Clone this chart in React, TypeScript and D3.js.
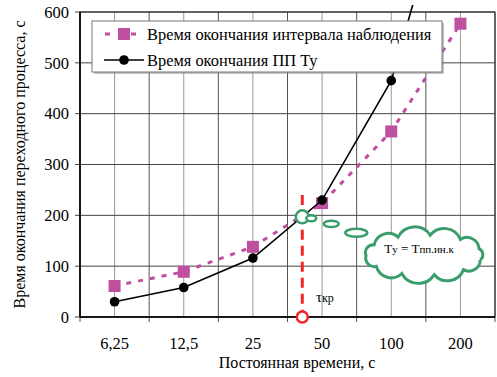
import React from "react";
import * as d3 from "d3";

const width = 497;
const height = 377;
const margin = { top: 12, right: 2, bottom: 60, left: 80 };

// постоянная времени, с
const categories = [6.25, 12.5, 25, 50, 100, 200];
const categoryLabels = ["6,25", "12,5", "25", "50", "100", "200"];
// время окончания интервала наблюдения
const intervalEnd = [61, 89, 138, 224, 365, 577];
// время окончания ПП Ту
const transientEnd = [30, 58, 116, 230, 465, 945];
const yTicks = [0, 100, 200, 300, 400, 500, 600];
const tauKr = 41;
const tauKrY = 197;

const pink = "#BF4F9F";
const green = "#3A9E6C";
const red = "#F0262A";
const font = "'Liberation Serif', 'Times New Roman', Times, 'DejaVu Serif', serif";

function cloudPath(cx: number, cy: number, rx: number, ry: number, n: number) {
  const pts = d3.range(n).map((i) => {
    const a = (i / n) * Math.PI * 2 + 0.25;
    return [cx + rx * Math.cos(a), cy + ry * Math.sin(a)];
  });
  let d = `M${pts[0][0]},${pts[0][1]}`;
  for (let i = 1; i <= n; i++) {
    const p0 = pts[i - 1];
    const p = pts[i % n];
    const r = Math.hypot(p[0] - p0[0], p[1] - p0[1]) * 0.58;
    d += ` A${r},${r} 0 0 1 ${p[0]},${p[1]}`;
  }
  return d;
}

export default function App() {
  const plotLeft = margin.left;
  const plotRight = width - margin.right;
  const plotBottom = height - margin.bottom;
  const step = (plotRight - plotLeft) / categories.length;

  const x = d3
    .scaleLog()
    .base(2)
    .domain([categories[0], categories[categories.length - 1]])
    .range([plotLeft + step / 2, plotRight - step / 2]);
  const y = d3.scaleLinear().domain([0, 600]).range([plotBottom, margin.top]);

  const boundaries = d3.range(categories.length + 1).map((i) => plotLeft + i * step);

  const line = d3
    .line<number>()
    .x((_, i) => x(categories[i]))
    .y((d) => y(d));

  const xr = x(tauKr);
  const gy = y(tauKrY);

  return (
    <svg width={width} height={height} style={{ position: "absolute", left: 0, top: 0, fontFamily: font }}>
      <defs>
        <clipPath id="plotClip">
          <rect x={plotLeft} y={5} width={plotRight - plotLeft} height={plotBottom - 5} />
        </clipPath>
      </defs>
      <rect width={width} height={height} fill="#fff" />

      {/* grid */}
      {categories.map((c) => (
        <line key={"m" + c} x1={x(c)} x2={x(c)} y1={margin.top} y2={plotBottom} stroke="#9a9a9a" strokeWidth={1} />
      ))}
      {boundaries.map((b, i) => (
        <line key={"b" + i} x1={b} x2={b} y1={margin.top} y2={plotBottom + 5} stroke="#555" strokeWidth={1} />
      ))}
      {yTicks.map((t) => (
        <line key={"h" + t} x1={plotLeft - 5} x2={plotRight} y1={y(t)} y2={y(t)} stroke="#444" strokeWidth={1} />
      ))}
      <rect x={plotLeft} y={margin.top} width={plotRight - plotLeft} height={plotBottom - margin.top} fill="none" stroke="#222" strokeWidth={1} />
      <line x1={plotLeft} x2={plotLeft} y1={margin.top} y2={plotBottom} stroke="#000" strokeWidth={1.5} />
      <line x1={plotLeft} x2={plotRight} y1={plotBottom} y2={plotBottom} stroke="#000" strokeWidth={1.5} />

      {/* tick labels */}
      {yTicks.map((t) => (
        <text key={"yl" + t} x={plotLeft - 11} y={y(t)} dy="0.35em" textAnchor="end" fontSize={16.5}>
          {t}
        </text>
      ))}
      {categories.map((c, i) => (
        <text key={"xl" + c} x={x(c)} y={plotBottom + 32} textAnchor="middle" fontSize={16.5}>
          {categoryLabels[i]}
        </text>
      ))}
      <text x={297} y={368} textAnchor="middle" fontSize={16}>
        Постоянная времени, с
      </text>
      <text transform={`translate(25,${(margin.top + plotBottom) / 2}) rotate(-90)`} textAnchor="middle" fontSize={16}>
        Время окончания переходного процесса, с
      </text>

      {/* series */}
      <g clipPath="url(#plotClip)">
        <path d={line(intervalEnd) ?? ""} fill="none" stroke={pink} strokeWidth={3} strokeDasharray="5,7" />
        {intervalEnd.map((v, i) => (
          <rect key={"s" + i} x={x(categories[i]) - 6} y={y(v) - 6} width={12} height={12} fill={pink} />
        ))}
        <path d={line(transientEnd) ?? ""} fill="none" stroke="#000" strokeWidth={1.6} />
        {transientEnd.map((v, i) => (
          <circle key={"c" + i} cx={x(categories[i])} cy={y(v)} r={4.8} fill="#000" />
        ))}
      </g>

      {/* critical tau */}
      <line x1={xr} x2={xr} y1={195} y2={gy - 8} stroke={red} strokeWidth={3} strokeDasharray="10,6" />
      <line x1={xr} x2={xr} y1={gy + 13} y2={plotBottom - 6} stroke={red} strokeWidth={3} strokeDasharray="10,6" />
      <circle cx={xr} cy={plotBottom} r={5.5} fill="#fff" stroke={red} strokeWidth={2.5} />
      <circle cx={xr} cy={gy} r={6.5} fill="#fff" stroke={green} strokeWidth={2.5} />
      <ellipse cx={xr + 9} cy={gy + 1.5} rx={5} ry={3} fill="#fff" stroke={green} strokeWidth={2.5} />
      <ellipse cx={xr + 29} cy={gy + 7} rx={7.5} ry={3.2} fill="#fff" stroke={green} strokeWidth={2.5} />
      <ellipse cx={xr + 54} cy={gy + 16} rx={11} ry={4} fill="#fff" stroke={green} strokeWidth={2.5} />
      <path d={cloudPath(424, 255, 58, 20, 11)} fill="#fff" stroke={green} strokeWidth={3} />
      <text x={419} y={253} textAnchor="middle" fontSize={13}>
        T<tspan fontSize={11}>у</tspan> = T<tspan fontSize={11}>пп.ин.к</tspan>
      </text>
      <text x={316} y={302} fontSize={15}>
        τ<tspan fontSize={12}>кр</tspan>
      </text>

      {/* legend */}
      <rect x={94} y={23} width={350} height={51} fill="#888" opacity={0.5} />
      <rect x={92} y={21} width={350} height={51} fill="#fff" stroke="#777" strokeWidth={1} />
      <line x1={104} x2={144} y1={34} y2={34} stroke={pink} strokeWidth={3} strokeDasharray="5,8" strokeDashoffset={-1} />
      <rect x={118} y={28} width={12} height={12} fill={pink} />
      <text x={147} y={34} dy="0.35em" fontSize={16.4}>
        Время окончания интервала наблюдения
      </text>
      <line x1={104} x2={144} y1={60} y2={60} stroke="#000" strokeWidth={1.6} />
      <circle cx={124} cy={60} r={4.8} fill="#000" />
      <text x={147} y={60} dy="0.35em" fontSize={16.4}>
        Время окончания ПП Ту
      </text>
    </svg>
  );
}
